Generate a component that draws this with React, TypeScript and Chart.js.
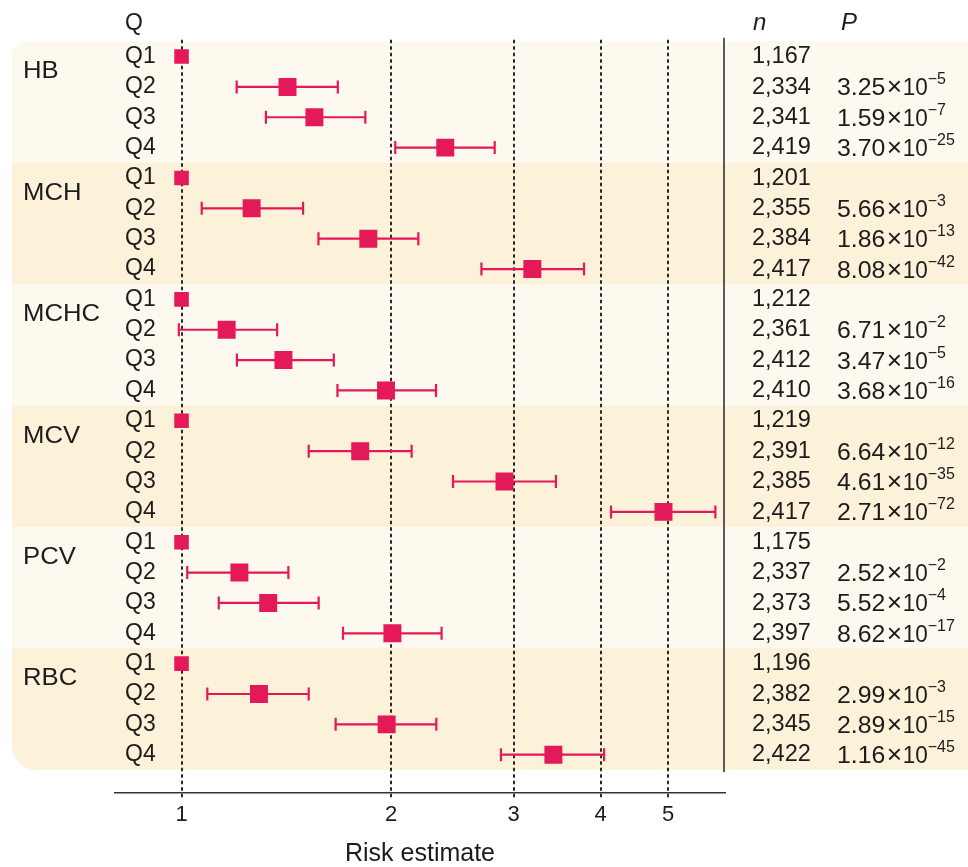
import React, { useEffect, useRef } from 'react';
import { Chart, registerables } from 'chart.js';

Chart.register(...registerables);

// ---------------- data ----------------
const groups = ['HB', 'MCH', 'MCHC', 'MCV', 'PCV', 'RBC'];
const quartiles = ['Q1', 'Q2', 'Q3', 'Q4'];

// risk estimate per row (group-major: HB Q1..Q4, MCH Q1..Q4, ...)
const estimates = [
  1, 1.42, 1.552, 2.393,
  1, 1.261, 1.855, 3.192,
  1, 1.161, 1.401, 1.967,
  1, 1.806, 2.911, 4.926,
  1, 1.211, 1.332, 2.009,
  1, 1.292, 1.971, 3.422,
];
const lowerCI = [
  null, 1.2, 1.322, 2.028,
  null, 1.069, 1.573, 2.697,
  null, 0.991, 1.201, 1.675,
  null, 1.523, 2.455, 4.141,
  null, 1.019, 1.131, 1.706,
  null, 1.089, 1.665, 2.877,
];
const upperCI = [
  null, 1.677, 1.837, 2.818,
  null, 1.495, 2.189, 3.787,
  null, 1.372, 1.655, 2.321,
  null, 2.141, 3.451, 5.848,
  null, 1.424, 1.574, 2.364,
  null, 1.523, 2.323, 4.047,
];
const nValues = [
  '1,167', '2,334', '2,341', '2,419',
  '1,201', '2,355', '2,384', '2,417',
  '1,212', '2,361', '2,412', '2,410',
  '1,219', '2,391', '2,385', '2,417',
  '1,175', '2,337', '2,373', '2,397',
  '1,196', '2,382', '2,345', '2,422',
];
const pMantissa = [
  '', '3.25', '1.59', '3.70',
  '', '5.66', '1.86', '8.08',
  '', '6.71', '3.47', '3.68',
  '', '6.64', '4.61', '2.71',
  '', '2.52', '5.52', '8.62',
  '', '2.99', '2.89', '1.16',
];
const pExponent = [
  '', '5', '7', '25',
  '', '3', '13', '42',
  '', '2', '5', '16',
  '', '12', '35', '72',
  '', '2', '4', '17',
  '', '3', '15', '45',
];
const xTicks = [1, 2, 3, 4, 5];
const xAxisTitle = 'Risk estimate';

// ---------------- style ----------------
const RED = '#e3195a';
const TEXT = '#1c1c1c';
const LIGHT_BAND = '#fdf9ef';
const DARK_BAND = '#fbf2d9';
const FONT = "'Liberation Sans', Arial, Helvetica, sans-serif";
const X_MIN = 0.8024;
const X_MAX = 6.0375;
const Y_MIN = -1.4445;
const Y_MAX = 24.261;

function stretchText(ctx: CanvasRenderingContext2D, text: string, x: number, y: number, sx: number) {
  ctx.save();
  ctx.translate(x, y);
  ctx.scale(sx, 1);
  ctx.fillText(text, 0, 0);
  ctx.restore();
  return ctx.measureText(text).width * sx;
}

const forestPlugin = {
  id: 'forest',
  beforeDraw(chart: any) {
    const { ctx, scales } = chart;
    const y = scales.y;
    const W = chart.width;
    ctx.save();
    groups.forEach((_g, gi) => {
      const top = y.getPixelForValue(gi * 4 - 0.5);
      const bot = y.getPixelForValue(gi * 4 + 3.5);
      ctx.fillStyle = gi % 2 === 0 ? LIGHT_BAND : DARK_BAND;
      const left = 12;
      const radii = [gi === 0 ? 14 : 0, 0, 0, gi === groups.length - 1 ? 24 : 0];
      ctx.beginPath();
      (ctx as any).roundRect(left, Math.round(top), W - left, Math.round(bot) - Math.round(top), radii);
      ctx.fill();
    });
    ctx.restore();
  },
  beforeDatasetsDraw(chart: any) {
    const { ctx, scales, chartArea } = chart;
    const x = scales.x;
    const y = scales.y;
    ctx.save();
    // dotted reference lines
    ctx.strokeStyle = '#2a2a2a';
    ctx.lineWidth = 2;
    ctx.setLineDash([3.5, 3]);
    const gTop = y.getPixelForValue(-0.55);
    const gBot = chartArea.bottom + 5;
    xTicks.forEach((t) => {
      const px = Math.round(x.getPixelForValue(t));
      ctx.beginPath();
      ctx.moveTo(px, gTop);
      ctx.lineTo(px, gBot);
      ctx.stroke();
    });
    ctx.setLineDash([]);
    // separator line
    ctx.strokeStyle = '#333';
    ctx.lineWidth = 1.6;
    const sx = chartArea.right - 1;
    ctx.beginPath();
    ctx.moveTo(sx, y.getPixelForValue(-0.62));
    ctx.lineTo(sx, y.getPixelForValue(23.58));
    ctx.stroke();
    // error bars
    ctx.strokeStyle = RED;
    ctx.lineWidth = 2.2;
    estimates.forEach((_e, r) => {
      const lo = lowerCI[r];
      const hi = upperCI[r];
      if (lo == null || hi == null) return;
      const py = y.getPixelForValue(r);
      const x0 = x.getPixelForValue(lo);
      const x1 = x.getPixelForValue(hi);
      ctx.beginPath();
      ctx.moveTo(x0, py);
      ctx.lineTo(x1, py);
      ctx.moveTo(x0, py - 6.5);
      ctx.lineTo(x0, py + 6.5);
      ctx.moveTo(x1, py - 6.5);
      ctx.lineTo(x1, py + 6.5);
      ctx.stroke();
    });
    ctx.restore();
  },
  afterDraw(chart: any) {
    const { ctx, scales } = chart;
    const y = scales.y;
    ctx.save();
    ctx.fillStyle = TEXT;
    ctx.textBaseline = 'middle';
    ctx.textAlign = 'left';
    const headerY = y.getPixelForValue(-1) - 3;
    ctx.font = `23px ${FONT}`;
    stretchText(ctx, 'Q', 125, headerY, 1.0);
    ctx.font = `italic 24px ${FONT}`;
    stretchText(ctx, 'n', 753, headerY, 1.0);
    stretchText(ctx, 'P', 841, headerY, 1.0);

    // group labels
    ctx.font = `24px ${FONT}`;
    groups.forEach((g, gi) => {
      stretchText(ctx, g, 23, y.getPixelForValue(gi * 4 + 0.5), 1.07);
    });
    // rows
    estimates.forEach((_e, r) => {
      const py = y.getPixelForValue(r);
      ctx.font = `23px ${FONT}`;
      ctx.textBaseline = 'middle';
      stretchText(ctx, quartiles[r % 4], 125, py, 1.0);
      ctx.font = `24px ${FONT}`;
      stretchText(ctx, nValues[r], 752, py, 0.98);
      if (pMantissa[r]) {
        ctx.textBaseline = 'alphabetic';
        const base = py + 8.5;
        let cx = 837;
        ctx.font = `23px ${FONT}`;
        cx += stretchText(ctx, pMantissa[r], cx, base, 1.08);
        cx += 1.5;
        ctx.font = `25px ${FONT}`;
        cx += stretchText(ctx, '\u00d7', cx, base, 1.05);
        cx += 0.5;
        ctx.font = `23px ${FONT}`;
        cx += stretchText(ctx, '10', cx, base, 0.98);
        ctx.font = `16px ${FONT}`;
        stretchText(ctx, '\u2212' + pExponent[r], cx, base - 11, 1.0);
      }
    });
    ctx.restore();
  },
};

export default function App() {
  const canvasRef = useRef<HTMLCanvasElement | null>(null);

  useEffect(() => {
    if (!canvasRef.current) return;
    const rows = estimates.map((e, r) => ({ x: e, y: r }));
    const chart = new Chart(canvasRef.current, {
      type: 'scatter',
      data: {
        datasets: [
          {
            data: rows,
            pointStyle: 'rect',
            pointRadius: (c: any) => (c.dataIndex % 4 === 0 ? 10.3 : 12.7),
            pointHoverRadius: (c: any) => (c.dataIndex % 4 === 0 ? 10.3 : 12.7),
            backgroundColor: RED,
            borderColor: RED,
            borderWidth: 0,
          },
        ],
      },
      options: {
        animation: false,
        responsive: false,
        devicePixelRatio: 1,
        events: [],
        layout: { padding: { left: 115, right: 243, top: 10, bottom: 0 } },
        plugins: { legend: { display: false }, tooltip: { enabled: false } },
        scales: {
          x: {
            type: 'logarithmic',
            min: X_MIN,
            max: X_MAX,
            bounds: 'data',
            afterBuildTicks: (s: any) => {
              s.ticks = xTicks.map((v) => ({ value: v }));
            },
            afterFit: (s: any) => {
              s.height = 74;
            },
            grid: { display: false, drawTicks: false },
            border: { display: true, color: '#333', width: 1.6 },
            ticks: {
              color: TEXT,
              font: { family: FONT, size: 22 },
              padding: 9,
              autoSkip: false,
              maxRotation: 0,
              callback: (v: any) => String(v),
            },
            title: {
              display: true,
              text: xAxisTitle,
              color: TEXT,
              font: { family: FONT, size: 25, lineHeight: 1.0 },
              padding: { top: 0, bottom: 0 },
            },
          },
          y: {
            type: 'linear',
            display: false,
            reverse: true,
            min: Y_MIN,
            max: Y_MAX,
            bounds: 'data',
          },
        },
      } as any,
      plugins: [forestPlugin],
    });
    return () => chart.destroy();
  }, []);

  return (
    <div style={{ position: 'fixed', left: 0, top: 0, width: 968, height: 867, background: '#fff' }}>
      <canvas ref={canvasRef} width={968} height={867} style={{ display: 'block', width: 968, height: 867 }} />
    </div>
  );
}
